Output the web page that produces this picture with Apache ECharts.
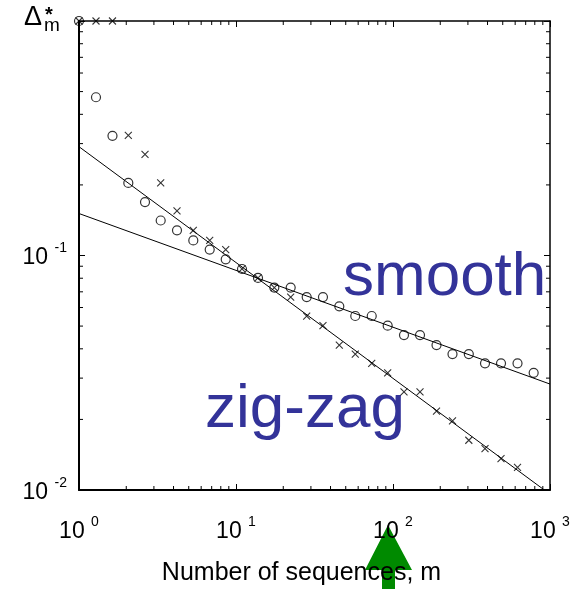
<!DOCTYPE html>
<html>
<head>
<meta charset="utf-8">
<script src="https://cdn.jsdelivr.net/npm/echarts@6/dist/echarts.min.js"></script>
<style>
  html, body { margin: 0; padding: 0; background: #fff; }
  #chart { width: 578px; height: 589px; }
</style>
</head>
<body>
<div id="chart"></div>
<script>
// Number of sequences m (log-spaced sample sizes)
const mValues = [1.000, 1.283, 1.634, 2.061, 2.633, 3.314, 4.209, 5.346, 6.80, 8.60,
  10.92, 13.81, 17.54, 22.30, 28.2, 35.8, 45.5, 57.5, 73.2, 92.5,
  117.5, 148.6, 189.3, 239.3, 304, 385.5, 487.5, 621, 787];

// Delta*_m for the smooth signal (circles)
const smoothValues = [1.0, 0.473, 0.324, 0.204, 0.169, 0.141, 0.128, 0.116, 0.106, 0.0963,
  0.0876, 0.0802, 0.0730, 0.0730, 0.0665, 0.0665, 0.0607, 0.0552, 0.0552, 0.0502,
  0.0458, 0.0458, 0.0415, 0.0380, 0.0380, 0.0347, 0.0347, 0.0347, 0.0316];

// Delta*_m for the zig-zag signal (crosses)
const zigzagValues = [1.0, 1.0, 1.0, 0.325, 0.270, 0.204, 0.155, 0.128, 0.116, 0.106,
  0.0876, 0.0802, 0.0730, 0.0665, 0.0552, 0.0502, 0.0415, 0.0380, 0.0347, 0.0316,
  0.0262, 0.0262, 0.0217, 0.0197, 0.0163, 0.0150, 0.0136, 0.0125];

// Power-law fit lines, as end points [m, Delta]
const smoothFit = [[1, 0.151], [1000, 0.0283]];
const zigzagFit = [[1, 0.291], [920, 0.01]];

// Axis ranges and minor tick multipliers within each decade
const xRange = [1, 1000];
const yRange = [0.01, 1];
const minorFactors = [2, 3, 4, 5, 6, 7, 8, 9];

const FONT = '"Liberation Sans", Arial, Helvetica, sans-serif';

const smoothPoints = smoothValues.map((v, i) => [mValues[i], v]);
const zigzagPoints = zigzagValues.map((v, i) => [mValues[i], v]);

function decades(range) {
  const out = [];
  for (let p = Math.round(Math.log10(range[0])); p < Math.round(Math.log10(range[1])); p++) {
    minorFactors.forEach(f => out.push(f * Math.pow(10, p)));
  }
  return out;
}
const xMinor = decades(xRange);
const yMinor = decades(yRange);

function powerLabel(value, hideTop) {
  const e = Math.round(Math.log10(value));
  if (hideTop && e === 0) return '';
  return '{b|10 }{s|' + e + '}';
}

const labelRich = {
  b: { fontSize: 23, fontFamily: FONT, color: '#000', lineHeight: 28, verticalAlign: 'bottom' },
  s: { fontSize: 14, fontFamily: FONT, color: '#000', lineHeight: 28, verticalAlign: 'top' }
};

const chart = echarts.init(document.getElementById('chart'), null, { renderer: 'canvas' });

const baseAxis = {
  type: 'log',
  logBase: 10,
  splitLine: { show: false },
  minorTick: { show: false },
  axisTick: { show: true, inside: true, length: 6, lineStyle: { color: '#000', width: 1 } }
};

chart.setOption({
  backgroundColor: '#fff',
  animation: false,
  grid: { left: 79, top: 21, right: 28, bottom: 99, containLabel: false, outerBoundsMode: 'none' },
  xAxis: [
    Object.assign({}, baseAxis, {
      min: xRange[0], max: xRange[1], position: 'bottom',
      axisLine: { show: true, lineStyle: { color: '#000', width: 2 } },
      axisLabel: { margin: 25, formatter: v => powerLabel(v, false), rich: labelRich },
      name: 'Number of sequences, m',
      nameLocation: 'middle',
      nameGap: 71,
      nameTextStyle: { fontSize: 25, fontFamily: FONT, color: '#000', padding: [0, 26, 0, 0] }
    }),
    Object.assign({}, baseAxis, {
      min: xRange[0], max: xRange[1], position: 'top',
      axisLine: { show: true, lineStyle: { color: '#000', width: 1.5 } },
      axisLabel: { show: false }
    })
  ],
  yAxis: [
    Object.assign({}, baseAxis, {
      min: yRange[0], max: yRange[1], position: 'left',
      axisLine: { show: true, lineStyle: { color: '#000', width: 2 } },
      axisLabel: { margin: 12, formatter: v => powerLabel(v, true), rich: labelRich }
    }),
    Object.assign({}, baseAxis, {
      min: yRange[0], max: yRange[1], position: 'right',
      axisLine: { show: true, lineStyle: { color: '#000', width: 1.5 } },
      axisLabel: { show: false }
    })
  ],
  series: [
    {
      name: 'smooth fit', type: 'line', data: smoothFit, showSymbol: false,
      lineStyle: { color: '#000', width: 1 }, silent: true
    },
    {
      name: 'zig-zag fit', type: 'line', data: zigzagFit, showSymbol: false,
      lineStyle: { color: '#000', width: 1 }, silent: true
    },
    {
      name: 'smooth', type: 'scatter', data: smoothPoints, clip: false,
      symbol: 'circle', symbolSize: 9,
      itemStyle: { color: 'rgba(0,0,0,0)', borderColor: '#000', borderWidth: 1.2 }
    },
    {
      name: 'zig-zag', type: 'scatter', data: zigzagPoints, clip: false,
      symbol: 'path://M0,0L10,10M10,0L0,10', symbolSize: 7,
      itemStyle: { color: 'rgba(0,0,0,0)', borderColor: '#000', borderWidth: 1.1 }
    },
    {
      // minor log ticks on all four sides of the frame
      name: 'minor ticks', type: 'custom', silent: true, clip: false,
      data: [[1, 1]],
      renderItem: function (params, api) {
        const children = [];
        const len = 4;
        const lo = api.coord([xRange[0], yRange[0]]);
        const hi = api.coord([xRange[1], yRange[1]]);
        const stroke = { stroke: '#000', lineWidth: 1 };
        xMinor.forEach(v => {
          const x = api.coord([v, yRange[0]])[0];
          children.push({ type: 'line', shape: { x1: x, y1: lo[1], x2: x, y2: lo[1] - len }, style: stroke });
          children.push({ type: 'line', shape: { x1: x, y1: hi[1], x2: x, y2: hi[1] + len }, style: stroke });
        });
        yMinor.forEach(v => {
          const y = api.coord([xRange[0], v])[1];
          children.push({ type: 'line', shape: { x1: lo[0], y1: y, x2: lo[0] + len, y2: y }, style: stroke });
          children.push({ type: 'line', shape: { x1: hi[0], y1: y, x2: hi[0] - len, y2: y }, style: stroke });
        });
        return { type: 'group', children: children };
      }
    }
  ],
  graphic: [
    {
      // y quantity: Delta with superscript * and subscript m
      type: 'group', left: 24, top: 4, silent: true,
      children: [
        { type: 'text', x: 0, y: 0, style: { text: 'Δ', fontSize: 27, fontFamily: FONT, fill: '#000' } },
        { type: 'text', x: 21, y: 1, style: { text: '*', fontSize: 20, fontFamily: FONT, fontWeight: 'bold', fill: '#000' } },
        { type: 'text', x: 20, y: 12, style: { text: 'm', fontSize: 19, fontFamily: FONT, fill: '#000' } }
      ]
    },
    {
      type: 'text', left: 343, top: 247, silent: true,
      style: { text: 'smooth', fontSize: 62, fontFamily: FONT, fill: '#333399' }
    },
    {
      type: 'text', left: 205, top: 379, silent: true,
      style: { text: 'zig-zag', fontSize: 62, fontFamily: FONT, fill: '#333399' }
    },
    {
      // green pointer under the m axis
      type: 'polygon', silent: true,
      shape: { points: [[388, 525], [412, 570], [395, 570], [395, 589], [382, 589], [382, 570], [365, 570]] },
      style: { fill: '#008a00' }
    }
  ]
});
</script>
</body>
</html>
